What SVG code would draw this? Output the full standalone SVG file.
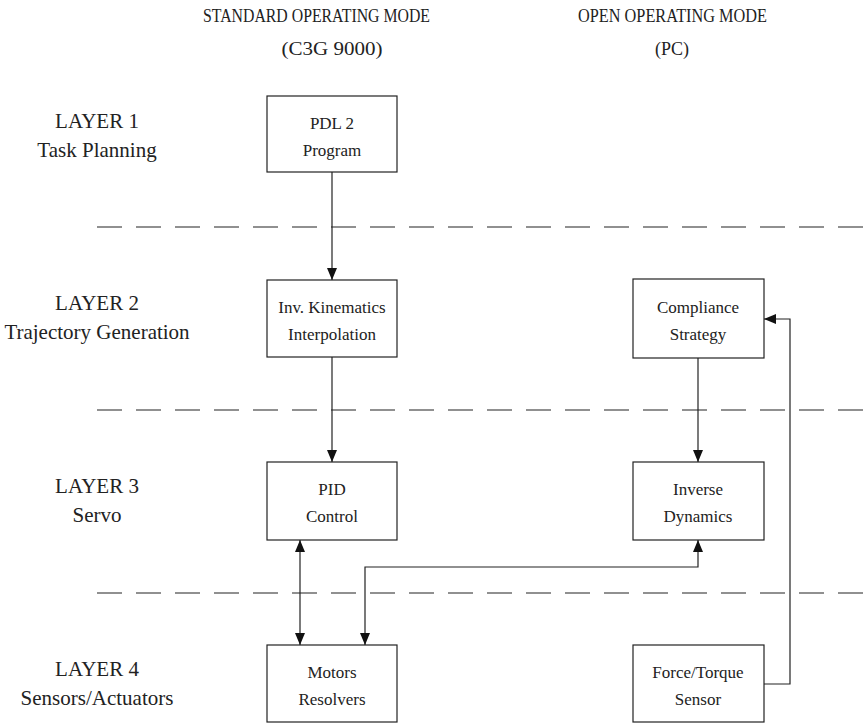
<svg xmlns="http://www.w3.org/2000/svg" width="868" height="725" viewBox="0 0 868 725" font-family="'Liberation Serif', 'DejaVu Serif', serif">
  <style>
    .box { fill: #fff; stroke: #222; stroke-width: 1.2; }
    .lbl { font-size: 17px; fill: #222; text-anchor: middle; }
    .hdr { font-size: 19px; fill: #222; text-anchor: middle; }
    .lay { font-size: 21px; fill: #222; text-anchor: middle; }
    .wire { fill: none; stroke: #222; stroke-width: 1.2; }
    .sep { fill: none; stroke: #222; stroke-width: 1.1; stroke-dasharray: 25 14; }
  </style>
  <defs>
    <marker id="arrow" viewBox="0 0 12 10" refX="12" refY="5" markerWidth="12" markerHeight="10" markerUnits="userSpaceOnUse" orient="auto-start-reverse">
      <path d="M0,0 L12,5 L0,10 z" fill="#111"/>
    </marker>
  </defs>
  <rect width="868" height="725" fill="#fff"/>

  <!-- column headings -->
  <g id="headings">
    <text class="hdr" x="316.5" y="22" textLength="227" lengthAdjust="spacingAndGlyphs">STANDARD OPERATING MODE</text>
    <text class="hdr" x="332" y="55" textLength="101" lengthAdjust="spacingAndGlyphs">(C3G 9000)</text>
    <text class="hdr" x="672.5" y="22" textLength="189" lengthAdjust="spacingAndGlyphs">OPEN OPERATING MODE</text>
    <text class="hdr" x="672" y="55" textLength="34" lengthAdjust="spacingAndGlyphs">(PC)</text>
  </g>

  <!-- layer labels -->
  <g id="layers">
    <text class="lay" x="97" y="128">LAYER 1</text>
    <text class="lay" x="97" y="157">Task Planning</text>
    <text class="lay" x="97" y="310">LAYER 2</text>
    <text class="lay" x="97" y="339">Trajectory Generation</text>
    <text class="lay" x="97" y="493">LAYER 3</text>
    <text class="lay" x="97" y="522">Servo</text>
    <text class="lay" x="97" y="676">LAYER 4</text>
    <text class="lay" x="97" y="705">Sensors/Actuators</text>
  </g>

  <!-- layer separators -->
  <g id="separators">
    <line class="sep" x1="97" y1="227" x2="868" y2="227"/>
    <line class="sep" x1="97" y1="410" x2="868" y2="410"/>
    <line class="sep" x1="97" y1="593" x2="868" y2="593"/>
  </g>

  <!-- connectors -->
  <g id="connectors">
    <line class="wire" x1="332" y1="172" x2="332" y2="280" marker-end="url(#arrow)"/>
    <line class="wire" x1="332" y1="357" x2="332" y2="462" marker-end="url(#arrow)"/>
    <line class="wire" x1="698" y1="358" x2="698" y2="462" marker-end="url(#arrow)"/>
    <line class="wire" x1="300" y1="540" x2="300" y2="645" marker-start="url(#arrow)" marker-end="url(#arrow)"/>
    <polyline class="wire" points="365,645 365,567 698,567 698,540" marker-start="url(#arrow)" marker-end="url(#arrow)"/>
    <polyline class="wire" points="764,684 790,684 790,319 764,319" marker-end="url(#arrow)"/>
  </g>

  <g id="pdl2">
    <rect class="box" x="267" y="96" width="130" height="76"/>
    <text class="lbl" x="332" y="129">PDL 2</text>
    <text class="lbl" x="332" y="156">Program</text>
  </g>
  <g id="invkin">
    <rect class="box" x="267" y="280" width="130" height="77"/>
    <text class="lbl" x="332" y="313">Inv. Kinematics</text>
    <text class="lbl" x="332" y="340">Interpolation</text>
  </g>
  <g id="compliance">
    <rect class="box" x="633" y="279" width="131" height="79"/>
    <text class="lbl" x="698" y="313">Compliance</text>
    <text class="lbl" x="698" y="340">Strategy</text>
  </g>
  <g id="pid">
    <rect class="box" x="267" y="462" width="130" height="78"/>
    <text class="lbl" x="332" y="495">PID</text>
    <text class="lbl" x="332" y="522">Control</text>
  </g>
  <g id="invdyn">
    <rect class="box" x="633" y="462" width="131" height="78"/>
    <text class="lbl" x="698" y="495">Inverse</text>
    <text class="lbl" x="698" y="522">Dynamics</text>
  </g>
  <g id="motors">
    <rect class="box" x="267" y="645" width="130" height="77"/>
    <text class="lbl" x="332" y="678">Motors</text>
    <text class="lbl" x="332" y="705">Resolvers</text>
  </g>
  <g id="forcesensor">
    <rect class="box" x="633" y="645" width="131" height="77"/>
    <text class="lbl" x="698" y="678">Force/Torque</text>
    <text class="lbl" x="698" y="705">Sensor</text>
  </g>
</svg>
